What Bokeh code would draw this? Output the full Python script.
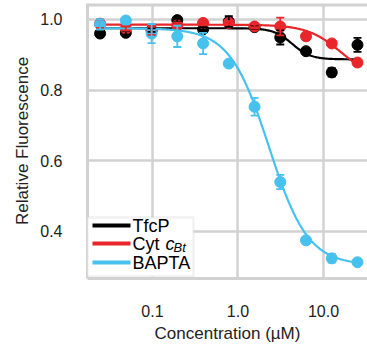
import numpy as np
from bokeh.plotting import figure
from bokeh.models import (Range1d, FixedTicker, Whisker, TeeHead, ColumnDataSource, Label,
                          BoxAnnotation, Span, CustomJSTickFormatter)
from bokeh.embed import file_html
from bokeh.resources import INLINE

# ---- data ----
conc = [0.0244, 0.0488, 0.0977, 0.195, 0.391, 0.781, 1.5625, 3.125, 6.25, 12.5, 25.0]

tfcp = [0.960, 0.962, 0.970, 0.998, 0.972, 0.994, 0.978, 0.949, 0.910, 0.850, 0.928]
tfcp_err = [0.006, 0.005, 0.005, 0.006, 0.006, 0.015, 0.005, 0.020, 0.006, 0.012, 0.020]

cyt = [0.988, 0.974, 0.968, 0.983, 0.990, 0.990, 0.980, 0.980, 0.952, 0.932, 0.878]
cyt_err = [0.012, 0.006, 0.012, 0.008, 0.005, 0.005, 0.005, 0.025, 0.005, 0.005, 0.005]

bapta = [0.986, 0.997, 0.960, 0.952, 0.932, 0.875, 0.753, 0.540, 0.375, 0.324, 0.313]
bapta_err = [0.015, 0.006, 0.027, 0.030, 0.030, 0.008, 0.025, 0.020, 0.006, 0.012, 0.006]

# Hill fit parameters (top, bottom, IC50, slope) estimated from the drawn fit curves
tfcp_fit = (0.975, 0.887, 4.3, 4.0)
cyt_fit = (0.985, 0.830, 16.0, 2.2)
bapta_fit = (0.975, 0.305, 2.3, 1.9)

x_ticks = [0.1, 1.0, 10.0]
y_ticks = [0.4, 0.6, 0.8, 1.0]

colors = ["#000000", "#e8262b", "#47c1ee"]
GRAY = "#d2d2d2"
FONT = "Liberation Sans"
Y_TOP = 1.045

p = figure(width=367, height=351, x_axis_type="log",
           x_range=Range1d(10 ** -1.760, 10 ** 1.515),
           y_range=Range1d(0.267, Y_TOP),
           output_backend="svg", toolbar_location=None,
           min_border_left=87, min_border_right=0, min_border_top=3, min_border_bottom=73,
           background_fill_color="white", border_fill_color="white")
p.outline_line_color = None

fmt = CustomJSTickFormatter(code="return tick.toFixed(1);")
p.xaxis.ticker = FixedTicker(ticks=x_ticks)
p.yaxis.ticker = FixedTicker(ticks=y_ticks)
p.xaxis.formatter = fmt
p.yaxis.formatter = fmt
for ax in (p.xaxis, p.yaxis):
    ax.major_tick_line_color = None
    ax.minor_tick_line_color = None
    ax.major_tick_out = 0
    ax.major_tick_in = 0
    ax.minor_tick_out = 0
    ax.axis_line_color = GRAY
    ax.axis_line_width = 3
    ax.major_label_text_font = FONT
    ax.major_label_text_font_size = "16px"
    ax.major_label_text_color = "#222222"
    ax.axis_label_text_font = FONT
    ax.axis_label_text_font_size = "17px"
    ax.axis_label_text_font_style = "normal"
    ax.axis_label_text_color = "#222222"
p.xaxis.major_label_standoff = 26
p.yaxis.major_label_standoff = 25
p.xaxis.axis_label = "Concentration (µM)"
p.yaxis.axis_label = "Relative Fluorescence"
p.xaxis.axis_label_standoff = 4
p.yaxis.axis_label_standoff = 5

p.xgrid.grid_line_color = GRAY
p.ygrid.grid_line_color = GRAY
p.xgrid.grid_line_width = 2.5
p.ygrid.grid_line_width = 2.5
p.xgrid.minor_grid_line_color = None

# top border of the frame
p.add_layout(Span(location=Y_TOP, dimension="width", line_color=GRAY, line_width=6))

series = [(tfcp, tfcp_err, tfcp_fit), (cyt, cyt_err, cyt_fit), (bapta, bapta_err, bapta_fit)]
xs_fit = np.logspace(np.log10(conc[0]), np.log10(conc[-1]), 300)
for (vals, errs, fit), col in zip(series, colors):
    top, bot, ic50, n = fit
    yfit = bot + (top - bot) / (1.0 + (xs_fit / ic50) ** n)
    p.line(xs_fit, yfit, line_color=col, line_width=2.2)
    src = ColumnDataSource(dict(x=conc, y=vals,
                                lower=[v - e for v, e in zip(vals, errs)],
                                upper=[v + e for v, e in zip(vals, errs)]))
    w = Whisker(source=src, base="x", lower="lower", upper="upper", dimension="height",
                line_color=col, line_width=1.8, level="glyph",
                upper_head=TeeHead(size=8, line_color=col, line_width=1.8),
                lower_head=TeeHead(size=8, line_color=col, line_width=1.8))
    p.add_layout(w)
    p.scatter("x", "y", source=src, size=11, fill_color=col, line_color=col)

# legend (manual, so that "Cyt c_Bt" can carry its italic subscript)
p.add_layout(BoxAnnotation(left=0, right=106, bottom=2, top=61,
                           left_units="screen", right_units="screen",
                           top_units="screen", bottom_units="screen",
                           fill_color="white", fill_alpha=1.0,
                           line_color=GRAY, line_width=2.5))
row_y = [53, 35, 16]
for col, yy in zip(colors, row_y):
    p.add_layout(BoxAnnotation(left=5, right=43, bottom=yy - 2, top=yy + 2,
                               left_units="screen", right_units="screen",
                               top_units="screen", bottom_units="screen",
                               fill_color=col, fill_alpha=1.0, line_alpha=0))
lab_kw = dict(x_units="screen", y_units="screen", text_baseline="middle",
              text_font=FONT, text_font_size="18px", text_color="#000000")
p.add_layout(Label(x=45, y=row_y[0], text="TfcP", **lab_kw))
p.add_layout(Label(x=45, y=row_y[1], text="Cyt", **lab_kw))
p.add_layout(Label(x=78, y=row_y[1], text="c", text_font_style="italic", **lab_kw))
p.add_layout(Label(x=86, y=row_y[1] - 4, text="Bt", x_units="screen", y_units="screen",
                   text_baseline="middle", text_font=FONT, text_font_size="13px",
                   text_font_style="italic", text_color="#000000"))
p.add_layout(Label(x=45, y=row_y[2], text="BAPTA", **lab_kw))

open("out.html", "w").write(file_html(p, INLINE))
